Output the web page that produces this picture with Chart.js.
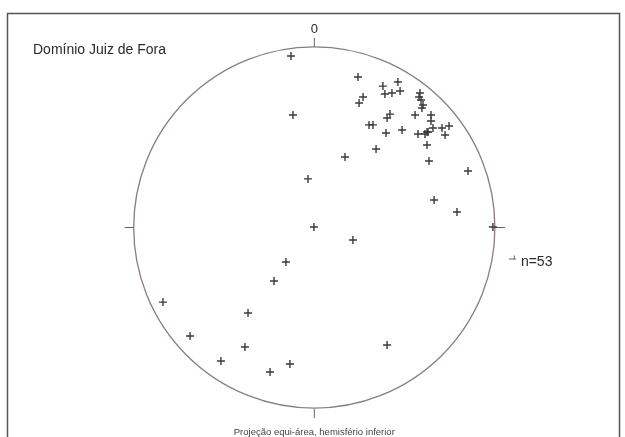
<!DOCTYPE html>
<html>
<head>
<meta charset="utf-8">
<script src="https://cdn.jsdelivr.net/npm/chart.js@4"></script>
<style>
  body { margin: 0; background: #fff; }
  canvas { display: block; }
</style>
</head>
<body>
<canvas id="net" width="625" height="437"></canvas>
<script>
const poleX = [-0.129, 0.242, 0.380, 0.463, 0.391, 0.430, 0.475, 0.270, 0.248, 0.585,
               0.591, 0.602, 0.596, 0.419, 0.403, 0.303, 0.325, 0.558, 0.646, 0.646,
               0.657, 0.707, 0.746, 0.397, 0.486, 0.574, 0.613, 0.630, 0.724, 0.342,
               0.624, 0.170, 0.635, 0.851, -0.118, -0.035, 0.663, 0.790, 0.989, -0.002,
               0.214, -0.157, -0.223, -0.838, -0.367, -0.688, -0.384, -0.517, -0.135, -0.245,
               0.403, 0.580, 0.624];
const poleY = [0.950, 0.833, 0.783, 0.806, 0.739, 0.745, 0.756, 0.723, 0.689, 0.745,
               0.706, 0.678, 0.662, 0.628, 0.606, 0.568, 0.568, 0.623, 0.623, 0.590,
               0.551, 0.551, 0.562, 0.523, 0.540, 0.518, 0.518, 0.529, 0.512, 0.435,
               0.457, 0.390, 0.368, 0.313, 0.623, 0.269, 0.152, 0.086, 0.003, 0.003,
               -0.069, -0.191, -0.296, -0.413, -0.473, -0.601, -0.662, -0.739, -0.756, -0.800,
               -0.651, 0.723, 0.529];

const title = 'Domínio Juiz de Fora';
const northLabel = '0';
const countLabel = 'n=53';
const caption = 'Projeção equi-área, hemisfério inferior';

const points = poleX.map((x, i) => ({ x: x, y: poleY[i] }));
const FONT = '"Liberation Sans", Arial, sans-serif';

// draws the frame, primitive circle, ticks and labels
const netPlugin = {
  id: 'net',
  beforeDatasetsDraw(chart) {
    const ctx = chart.ctx;
    const sx = chart.scales.x, sy = chart.scales.y;
    const cx = sx.getPixelForValue(0);
    const cy = sy.getPixelForValue(0);
    const r = sx.getPixelForValue(1) - cx;

    ctx.save();
    // frame
    ctx.strokeStyle = '#555';
    ctx.lineWidth = 1.5;
    ctx.strokeRect(7.5, 13.5, 612, 440);

    // circle
    ctx.strokeStyle = '#8a7d7b';
    ctx.lineWidth = 1.3;
    ctx.beginPath();
    ctx.arc(cx, cy, r, 0, Math.PI * 2);
    ctx.stroke();

    // ticks
    ctx.strokeStyle = '#666';
    ctx.lineWidth = 1;
    ctx.beginPath();
    ctx.moveTo(cx, cy - r - 9); ctx.lineTo(cx, cy - r);
    ctx.moveTo(cx, cy + r + 1); ctx.lineTo(cx, cy + r + 10);
    ctx.moveTo(cx - r - 9, cy); ctx.lineTo(cx - r, cy);
    ctx.moveTo(cx + r, cy); ctx.lineTo(cx + r + 10, cy);
    // small mark beside the count
    ctx.moveTo(cx + r + 14, cy + 31.5); ctx.lineTo(cx + r + 21, cy + 31.5);
    ctx.moveTo(cx + r + 19.5, cy + 28); ctx.lineTo(cx + r + 19.5, cy + 32);
    ctx.stroke();

    // text
    ctx.fillStyle = '#2a2a2a';
    ctx.textBaseline = 'middle';
    ctx.font = '14px ' + FONT;
    ctx.textAlign = 'left';
    ctx.fillText(title, 33, 50);
    ctx.fillText(countLabel, cx + r + 26, cy + 35);
    ctx.textAlign = 'center';
    ctx.font = '13px ' + FONT;
    ctx.fillText(northLabel, cx, cy - r - 17);
    ctx.fillStyle = '#444';
    ctx.font = '9.5px ' + FONT;
    ctx.fillText(caption, cx, cy + r + 24);
    ctx.restore();
  }
};

new Chart(document.getElementById('net').getContext('2d'), {
  type: 'scatter',
  data: {
    datasets: [{
      data: points,
      pointStyle: 'cross',
      pointRadius: 4,
      pointBorderWidth: 1.4,
      borderColor: '#3a3a3a',
      backgroundColor: '#3a3a3a'
    }]
  },
  options: {
    responsive: false,
    animation: false,
    layout: { padding: 0, autoPadding: false },
    plugins: {
      legend: { display: false },
      tooltip: { enabled: false }
    },
    scales: {
      x: { display: false, min: -1.7403, max: 1.7204 },
      y: { display: false, min: -1.1600, max: 1.2597 }
    }
  },
  plugins: [netPlugin]
});
</script>
</body>
</html>
